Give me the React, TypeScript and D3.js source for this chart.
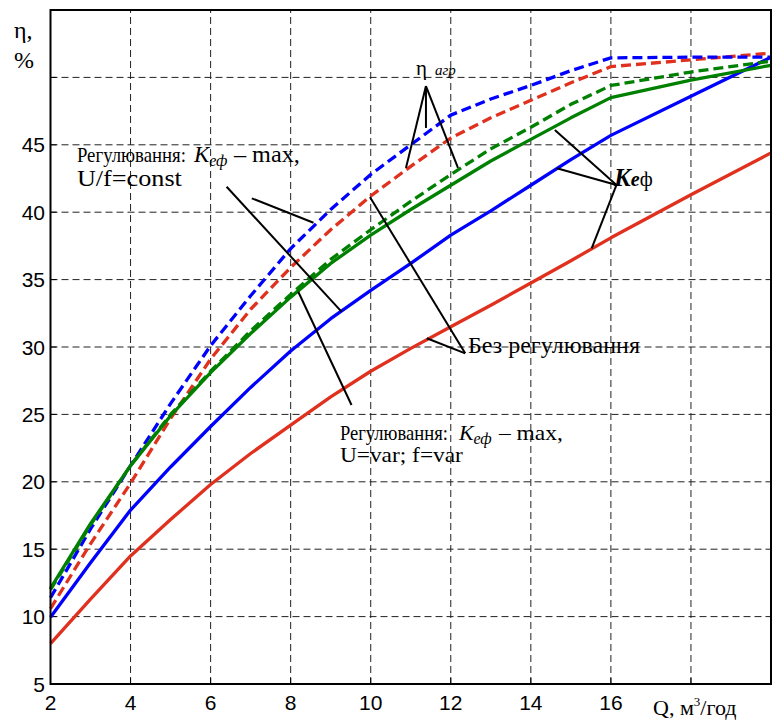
import React from 'react';
import * as d3 from 'd3';

// Q, m3/h
const Q = [2, 3, 4, 5, 6, 7, 8, 9, 10, 11, 12, 13, 14, 15, 16, 18, 20];
// η агр (dashed)
const agrBlue = [11.4, 16.5, 21.2, 25.8, 30.1, 33.8, 37.3, 40.2, 42.8, 45.0, 47.2, 48.4, 49.4, 50.5, 51.45, 51.5, 51.5];
const agrRed = [10.6, 15.4, 19.9, 24.7, 29.1, 32.8, 35.9, 38.7, 41.2, 43.4, 45.5, 47.0, 48.3, 49.6, 50.8, 51.3, 51.8];
const agrGreen = [12.0, 16.8, 21.2, 25.0, 28.2, 31.2, 33.9, 36.5, 38.7, 40.8, 42.8, 44.7, 46.3, 48.0, 49.4, 50.4, 51.2];
// K еф (solid)
const kefGreen = [12.1, 16.9, 21.2, 24.9, 28.1, 31.0, 33.7, 36.2, 38.3, 40.2, 42.0, 43.8, 45.4, 47.0, 48.5, 49.8, 50.9];
const kefBlue = [9.95, 14.0, 17.9, 21.1, 24.1, 27.0, 29.7, 32.1, 34.2, 36.2, 38.3, 40.1, 42.0, 43.9, 45.7, 48.6, 51.5];
const kefRed = [8.0, 11.3, 14.5, 17.2, 19.8, 22.1, 24.2, 26.3, 28.2, 29.9, 31.5, 33.1, 34.75, 36.4, 38.1, 41.3, 44.4];

const xGrid = [4, 6, 8, 10, 12, 14, 16, 18];
const xLabels = [2, 4, 6, 8, 10, 12, 14, 16];
const yGrid = [10, 15, 20, 25, 30, 35, 40, 45, 50];
const yLabels = [5, 10, 15, 20, 25, 30, 35, 40, 45];

// annotation leader lines in data coords [q1, v1, q2, v2]
const leadersAgr = [
  [11.38, 49.36, 10.88, 43.28],
  [11.38, 49.36, 11.38, 46.25],
  [11.38, 49.36, 12.18, 43.28],
];
const leadersKef = [
  [16.14, 42.02, 14.6, 46.1],
  [16.14, 42.02, 14.65, 43.26],
  [16.14, 42.02, 15.52, 37.32],
];
const leadersNoReg = [
  [12.36, 29.53, 11.4, 30.65],
  [12.36, 29.53, 9.98, 41.13],
];
const leadersConst = [
  [6.4, 41.89, 9.27, 32.62],
  [7.03, 41.03, 8.57, 39.22],
];
const leadersVar = [[8.19, 34.1, 9.52, 25.7]];

const W = 777;
const H = 722;
const serif = '"Liberation Serif", "Times New Roman", serif';
const sans = '"Liberation Sans", Arial, sans-serif';

const BLUE = '#0000ff';
const RED = '#e0301e';
const GREEN = '#008000';

export default function App() {
  const x = d3.scaleLinear().domain([2, 20]).range([50.5, 771]);
  const y = d3.scaleLinear().domain([5, 55]).range([684, 10]);
  const line = d3
    .line<number>()
    .x((_, i) => x(Q[i]))
    .y((d) => y(d));

  const series = [
    { v: kefRed, c: RED, dash: null },
    { v: kefBlue, c: BLUE, dash: null },
    { v: agrRed, c: RED, dash: '10,5' },
    { v: agrBlue, c: BLUE, dash: '10,5' },
    { v: agrGreen, c: GREEN, dash: '10,5' },
    { v: kefGreen, c: GREEN, dash: null },
  ];

  const leaders = [...leadersAgr, ...leadersKef, ...leadersNoReg, ...leadersConst, ...leadersVar];

  const x0 = x(2), x1 = x(20), yb = y(5), yt = y(55);
  const l4x = x(2.66), l4y = y(43.75);
  const l5x = x(9.23), l5y = y(23.1);

  return (
    <svg width={W} height={H} style={{ position: 'absolute', left: 0, top: 0, background: '#fff' }}>
      <rect x={0} y={0} width={W} height={H} fill="#fff" />
      {/* grid */}
      {xGrid.map((g) => (
        <line key={'gx' + g} x1={x(g)} x2={x(g)} y1={yb} y2={yt} stroke="#222" strokeWidth={1} strokeDasharray="7,4" />
      ))}
      {yGrid.map((g) => (
        <line key={'gy' + g} x1={x0} x2={x1} y1={y(g)} y2={y(g)} stroke="#222" strokeWidth={1} strokeDasharray="7,4" />
      ))}
      {/* ticks */}
      {xGrid.map((g) => (
        <line key={'tx' + g} x1={x(g)} x2={x(g)} y1={yb} y2={yb - 6} stroke="#000" strokeWidth={1} />
      ))}
      {yGrid.map((g) => (
        <line key={'ty' + g} x1={x0} x2={x0 + 6} y1={y(g)} y2={y(g)} stroke="#000" strokeWidth={1} />
      ))}
      {/* curves */}
      {series.map((s, i) => (
        <path
          key={'s' + i}
          d={line(s.v) || ''}
          fill="none"
          stroke={s.c}
          strokeWidth={3.3}
          strokeDasharray={s.dash || undefined}
          strokeLinejoin="round"
        />
      ))}
      {/* leaders */}
      {leaders.map((l, i) => (
        <line key={'l' + i} x1={x(l[0])} y1={y(l[1])} x2={x(l[2])} y2={y(l[3])} stroke="#000" strokeWidth={2} />
      ))}
      {/* frame */}
      <rect x={x0} y={yt} width={x1 - x0} height={yb - yt} fill="none" stroke="#000" strokeWidth={2} />
      {/* tick labels */}
      {xLabels.map((t) => (
        <text key={'lx' + t} x={x(t)} y={710} textAnchor="middle" fontFamily={sans} fontSize={21}>
          {t}
        </text>
      ))}
      {yLabels.map((t) => (
        <text key={'ly' + t} x={45} y={y(t) + 7.5} textAnchor="end" fontFamily={sans} fontSize={21}>
          {t}
        </text>
      ))}
      {/* axis titles */}
      <text x={14} y={38} fontFamily={serif} fontSize={24}>η,</text>
      <text x={14} y={68} fontFamily={serif} fontSize={24}>%</text>
      <text x={653} y={715} fontFamily={serif} fontSize={22}>
        Q, м<tspan dy={-9} fontSize={13}>3</tspan><tspan dy={9}>/год</tspan>
      </text>
      {/* η агр */}
      <text x={x(11.13)} y={y(50.18)} fontFamily={serif} fontSize={21}>
        η<tspan dx={8} fontSize={15} fontStyle="italic">агр</tspan>
      </text>
      {/* K еф */}
      <text x={x(16.08)} y={y(41.94)} fontFamily={serif} fontSize={25} fontStyle="italic" fontWeight="bold">
        K<tspan fontSize={20}>е</tspan><tspan fontSize={20} fontStyle="normal" fontWeight="normal">ф</tspan>
      </text>
      {/* Без регулювання */}
      <text x={x(12.43)} y={y(29.52)} fontFamily={serif} fontSize={23} textLength={172} lengthAdjust="spacingAndGlyphs">
        Без регулювання
      </text>
      {/* Регулювання: Kеф – max, U/f=const */}
      <text transform={`translate(${l4x},${l4y}) scale(1,1.1)`} fontFamily={serif} fontSize={19.5} textLength={109} lengthAdjust="spacingAndGlyphs">
        Регулювання:
      </text>
      <text x={l4x + 117} y={l4y} fontFamily={serif} fontSize={23} fontStyle="italic">
        K<tspan dy={4} fontSize={16}>еф</tspan>
      </text>
      <text x={l4x + 157} y={l4y} fontFamily={serif} fontSize={23} textLength={66} lengthAdjust="spacingAndGlyphs">
        – max,
      </text>
      <text x={l4x} y={y(41.95)} fontFamily={serif} fontSize={22.5} textLength={105} lengthAdjust="spacingAndGlyphs">
        U/f=const
      </text>
      {/* Регулювання: Kеф – max, U=var; f=var */}
      <text transform={`translate(${l5x},${l5y}) scale(1,1.1)`} fontFamily={serif} fontSize={19} textLength={108} lengthAdjust="spacingAndGlyphs">
        Регулювання:
      </text>
      <text x={l5x + 119} y={l5y} fontFamily={serif} fontSize={22} fontStyle="italic">
        K<tspan dy={4} fontSize={16}>еф</tspan>
      </text>
      <text x={l5x + 159} y={l5y} fontFamily={serif} fontSize={22} textLength={64} lengthAdjust="spacingAndGlyphs">
        – max,
      </text>
      <text x={l5x} y={y(21.45)} fontFamily={serif} fontSize={21} textLength={123} lengthAdjust="spacingAndGlyphs">
        U=var; f=var
      </text>
    </svg>
  );
}
